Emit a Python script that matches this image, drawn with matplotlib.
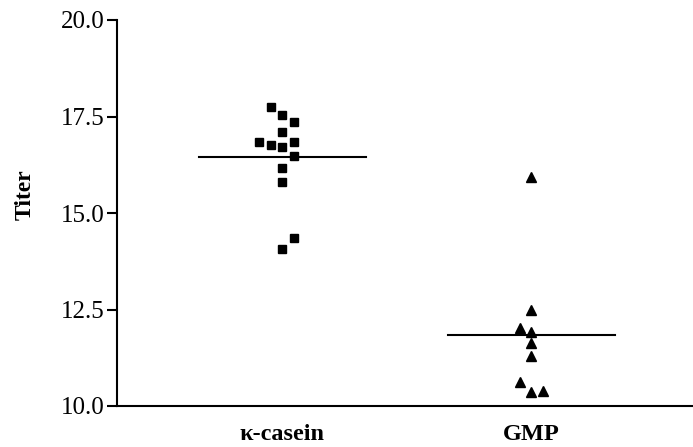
import matplotlib
matplotlib.use("Agg")
import matplotlib.pyplot as plt
import numpy as np

categories = ["κ-casein", "GMP"]
kappa_values = [17.75, 17.54, 17.37, 17.11, 16.85, 16.76, 16.72, 16.83, 16.48, 16.17, 15.81, 14.36, 14.07]
kappa_cols = [-1, 0, 1, 0, -2, -1, 0, 1, 1, 0, 0, 1, 0]
gmp_values = [15.94, 12.49, 12.01, 11.93, 11.62, 11.30, 10.63, 10.35, 10.40]
gmp_cols = [0, 0, -1, 0, 0, 0, -1, 0, 1]
yticks = [10.0, 12.5, 15.0, 17.5, 20.0]

plt.rcParams['font.family'] = ['Liberation Serif', 'DejaVu Serif']

fig = plt.figure(figsize=(6.93, 4.47), dpi=100)
ax = fig.add_axes([117/693, 41/447, 576/693, 386/447])

step = 0.047
ax.plot(0 + np.array(kappa_cols) * step, kappa_values, 's', color='black', markersize=6.2, linestyle='none')
ax.plot(1 + np.array(gmp_cols) * step, gmp_values, '^', color='black', markersize=6.5, linestyle='none')

hw = 0.335
for i, vals in enumerate([kappa_values, gmp_values]):
    m = np.mean(vals)
    ax.plot([i - hw, i + hw], [m, m], color='black', linewidth=1.5)

ax.set_xlim(-0.664, -0.664 + 576/249)
ax.set_ylim(10, 20)
ax.set_yticks(yticks)
ax.set_yticklabels([f"{v:.1f}" for v in yticks], fontsize=18)
ax.set_xticks([0, 1])
ax.set_xticklabels(categories, fontsize=17.5, fontweight='bold')
ax.tick_params(axis='x', length=0, pad=13)
ax.tick_params(axis='y', direction='out', length=7, width=1.5, pad=2)
for s in ['top', 'right']:
    ax.spines[s].set_visible(False)
for s in ['left', 'bottom']:
    ax.spines[s].set_linewidth(1.5)
ax.set_ylabel("Titer", fontsize=17, fontweight='bold')
ax.yaxis.set_label_coords(-0.141, 0.547)

fig.savefig("out.png", dpi=100)
